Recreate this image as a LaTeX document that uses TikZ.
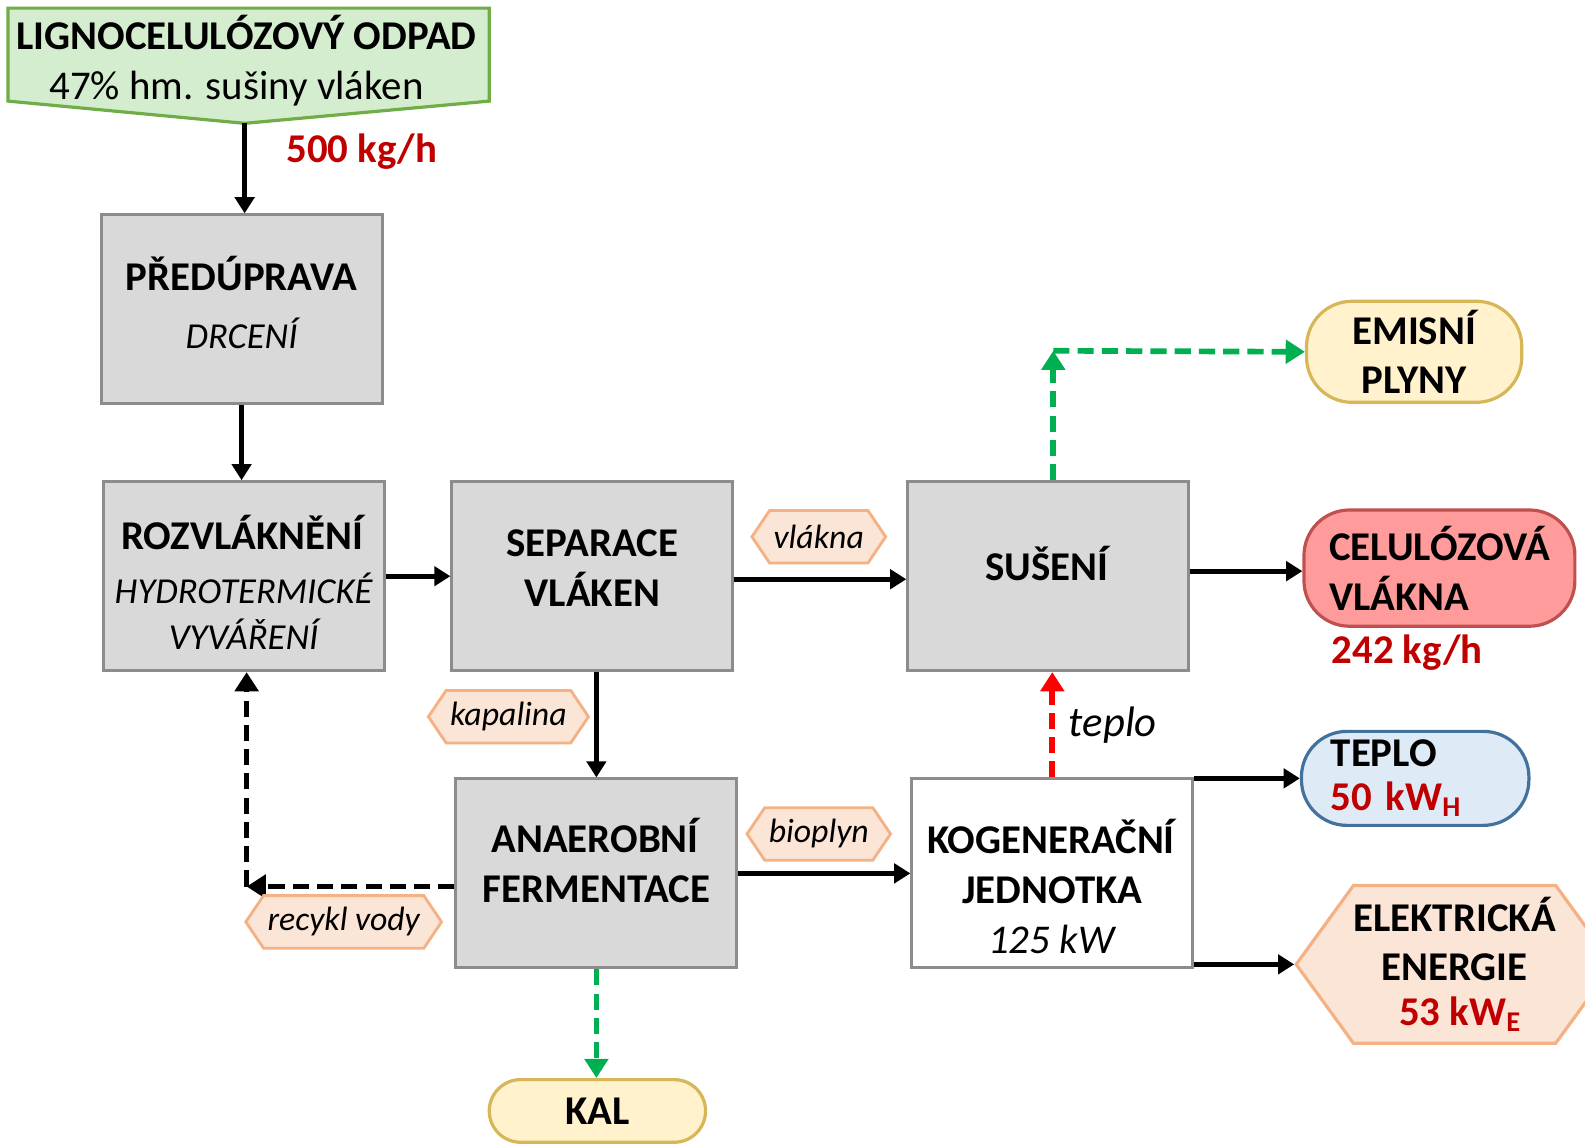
\documentclass[tikz,border=0pt]{standalone}
\usepackage{fontspec}
\setmainfont{Carlito}
\usepackage{tikz}
\usetikzlibrary{positioning,arrows.meta,shapes.symbols}

\definecolor{boxgray}{HTML}{D9D9D9}
\definecolor{boxline}{HTML}{8C8C8C}
\definecolor{feedfill}{HTML}{D5EDCF}
\definecolor{feedline}{HTML}{70AD47}
\definecolor{tagfill}{HTML}{FBE5D6}
\definecolor{tagline}{HTML}{F4B183}
\definecolor{fibfill}{HTML}{FF9B9B}
\definecolor{fibline}{HTML}{C0504D}
\definecolor{gasfill}{HTML}{FFF2CC}
\definecolor{gasline}{HTML}{D6B656}
\definecolor{heatfill}{HTML}{DEEBF7}
\definecolor{heatline}{HTML}{41719C}
\definecolor{valred}{HTML}{C00000}
\definecolor{flowgreen}{HTML}{00B050}
\definecolor{flowred}{HTML}{FF0000}

% text v procesnim boxu, posunuty o #1
\newcommand{\boxtext}[2][0mm]{\raisebox{#1}[0pt][0pt]{\begin{tabular}{@{}c@{}}#2\end{tabular}}}
\newcommand{\subtxt}[1]{{\fontsize{10.3}{14}\selectfont\itshape #1}}

\begin{document}
\begin{tikzpicture}[x=0.1mm, y=-0.1mm, font=\fontsize{11.5}{14}\selectfont,
    proc/.style={rectangle, draw=boxline, fill=boxgray, line width=0.8pt, minimum width=27.8mm, minimum height=18.7mm, align=center, inner sep=0pt},
    unit/.style={proc, fill=white},
    outbox/.style={rectangle, rounded corners=4.5mm, line width=0.9pt, inner sep=0pt, font=\fontsize{11.5}{14}\selectfont\bfseries},
    tag/.style={signal, signal to=west and east, signal pointer angle=112, draw=tagline, fill=tagfill, line width=0.8pt, minimum height=5.2mm, inner xsep=0.4mm, inner ysep=0pt, font=\fontsize{9.5}{11}\selectfont\itshape},
    flow/.style={line width=1.4pt, -{Triangle[length=1.6mm, width=1.9mm]}},
    dflow/.style={line width=1.6pt, dash pattern=on 1.6mm off 0.8mm, -{Triangle[length=1.9mm, width=2.3mm]}},
    value/.style={text=valred, font=\fontsize{11.5}{14}\selectfont\bfseries}]

    \useasboundingbox (0,0) rectangle (1568,1132);

    % vstup
    \draw[fill=feedfill, draw=feedline, line width=0.9pt] (8,8) -- (484,8) -- (484,100) -- (242,122) -- (8,100) -- cycle;
    \node[align=center, inner sep=0pt] (feed) at (244,60) {\textbf{LIGNOCELULÓZOVÝ ODPAD}\\47\% hm. sušiny vláken\hspace*{2mm}};
    \coordinate (feedtip) at (242,122);

    % procesy
    \node[proc] (pre) at (239,306) {\boxtext[-1.05mm]{\textbf{PŘEDÚPRAVA}\\[0.8mm]\subtxt{DRCENÍ}}};
    \node[proc] (roz) at (241,570) {\boxtext[-2.35mm]{\textbf{ROZVLÁKNĚNÍ}\\[0.5mm]\subtxt{HYDROTERMICKÉ}\\[-0.4mm]\subtxt{VYVÁŘENÍ}}};
    \node[proc] (sep) at (586,570) {\boxtext[-0.6mm]{\textbf{SEPARACE}\\\textbf{VLÁKEN}}};
    \node[proc] (sus) at (1037,570) {\boxtext[-0.5mm]{\textbf{SUŠENÍ}}};
    \node[proc] (ana) at (590,864) {\boxtext[-0.5mm]{\textbf{ANAEROBNÍ}\\\textbf{FERMENTACE}}};
    \node[unit] (kog) at (1041,864) {\boxtext[-3.05mm]{\textbf{KOGENERAČNÍ}\\\textbf{JEDNOTKA}\\\textit{125 kW}}};

    % produkty
    \node[outbox, draw=gasline, fill=gasfill, minimum width=21.3mm, minimum height=10mm, align=center] (gas) at (1399,348) {EMISNÍ\\PLYNY};
    \node[outbox, draw=fibline, fill=fibfill, minimum height=11.5mm, text width=21.8mm, inner xsep=2.5mm, align=left] (cel) at (1424,562) {CELULÓZOVÁ\\VLÁKNA};
    \node[outbox, draw=heatline, fill=heatfill, minimum height=9.3mm, text width=16.7mm, inner xsep=2.9mm, align=left] (heat) at (1400,770) {TEPLO\\[-0.6mm]\textcolor{valred}{50 kW\textsubscript{H}}};
    \node[signal, signal to=west and east, signal pointer angle=108, draw=tagline, fill=tagfill, line width=0.9pt, minimum width=30mm, minimum height=15.6mm, inner sep=0pt, align=center, font=\fontsize{11.5}{14}\selectfont\bfseries] (ele) at (1439,954) {ELEKTRICKÁ\\ENERGIE\\[-0.5mm]\textcolor{valred}{\hspace{1.2mm}53 kW\textsubscript{E}}};
    \node[outbox, rounded corners=3.1mm, draw=gasline, fill=gasfill, minimum width=21.4mm, minimum height=6.2mm] (kal) at (591,1099) {KAL};

    % hodnoty
    \node[value] (feedrate) at (358,150) {500 kg/h};
    \node[value] (celrate) at (1392,646) {242 kg/h};

    % hlavni toky
    \draw[flow] (feedtip) -- (feedtip |- pre.north);
    \draw[flow] (pre.south) -- (pre.south |- roz.north);
    \draw[flow] (roz.east) -- (sep.west);
    \draw[flow] ([yshift=-0.3mm]sep.east) -- ([yshift=-0.3mm]sus.west);
    \draw[flow] ([yshift=0.5mm]sus.east) -- ([yshift=0.5mm]sus.east -| cel.west);
    \draw[flow] ([xshift=0.4mm]sep.south) -- ([xshift=0.4mm]sep.south |- ana.north);
    \draw[flow] (ana.east) -- (kog.west);
    \draw[flow] (heat.west -| kog.east) -- (heat.west);
    \draw[flow] (ele.west -| kog.east) -- (ele.west);

    % vedlejsi toky
    \coordinate (bend) at (1042,347);
    \draw[dflow, flowgreen] (bend |- sus.north) -- (bend);
    \draw[dflow, flowgreen] (bend) -- (gas.west);
    \draw[dflow, flowred] (kog.north) -- (kog.north |- sus.south) node[midway, right=0.2mm, font=\fontsize{12}{14}\selectfont\itshape, text=black] (heatlab) {teplo};
    \draw[dflow, flowgreen] (ana.south) -- (ana.south |- kal.north);
    \coordinate (ret) at (244,877);
    \draw[dflow] (ret -| ana.west) -- (ret);
    \draw[dflow] (ret) -- (ret |- roz.south);

    % stitky
    \node[tag] (vlakna) at (810,531) {vlákna};
    \node[tag] (kapalina) at (503,709) {kapalina};
    \node[tag] (bioplyn) at (810,825) {bioplyn};
    \node[tag] (recykl) at (340,912) {recykl vody};
\end{tikzpicture}
\end{document}
